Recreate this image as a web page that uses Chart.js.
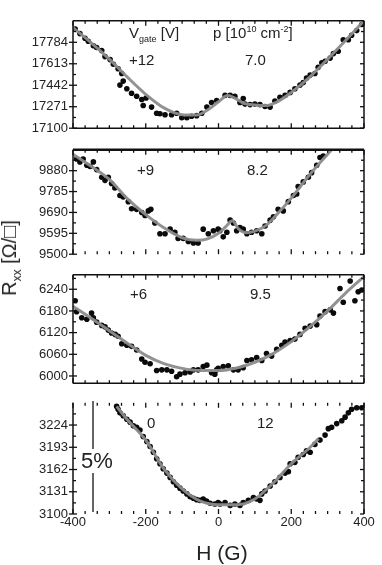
<!DOCTYPE html>
<html><head><meta charset="utf-8">
<script src="https://cdn.jsdelivr.net/npm/chart.js@4/dist/chart.umd.min.js"></script>
<style>
body{margin:0;width:382px;height:565px;background:#fff;position:relative;overflow:hidden;font-family:"Liberation Sans",Arial,sans-serif;color:#222}
canvas{position:absolute;left:0}
.t{position:absolute;white-space:nowrap;font-size:15px;line-height:1;z-index:5}
.t sub,.t sup{font-size:9px}
</style></head><body>
<canvas id="c1" width="382" height="133" style="top:8px"></canvas>
<canvas id="c2" width="382" height="130" style="top:137px"></canvas>
<canvas id="c3" width="382" height="134" style="top:262px"></canvas>
<canvas id="c4" width="382" height="175" style="top:390px"></canvas>

<div class="t" style="left:129px;top:25px">V<sub>gate</sub> [V]</div>
<div class="t" style="left:213px;top:25px">p [10<sup>10</sup> cm<sup>-2</sup>]</div>
<div class="t" style="left:129px;top:52px">+12</div>
<div class="t" style="left:245px;top:52px">7.0</div>
<div class="t" style="left:137px;top:162px">+9</div>
<div class="t" style="left:247px;top:162px">8.2</div>
<div class="t" style="left:130px;top:286px">+6</div>
<div class="t" style="left:250px;top:286px">9.5</div>
<div class="t" style="left:147px;top:415px">0</div>
<div class="t" style="left:257px;top:415px">12</div>

<div style="position:absolute;left:92px;top:401px;width:1.5px;height:111px;background:#666;z-index:4"></div>
<div class="t" style="left:81px;top:449px;font-size:22px;background:#fff;padding:1px 0">5%</div>
<div class="t" style="left:222px;top:552px;font-size:21px;transform:translate(-50%,-50%)">H (G)</div>
<div class="t" style="left:11px;top:258px;font-size:20px;transform:translate(-50%,-50%) rotate(-90deg)">R<sub style="font-size:12px">xx</sub> [Ω/□]</div>

<script>
// ---- x axis ----
const xTicks = [-400, -200, 0, 200, 400];

// ---- panel 1 (Vgate +12) ----
const yTicks1 = [17100, 17271, 17442, 17613, 17784];
const h1 = [-394,-381,-367,-358,-344,-335,-321,-312,-298,-289,-276,-266,-271,-262,-252,-239,-225,-211,-199,-207,-184,-170,-161,-147,-129,-115,-101,-87,-74,-60,-46,-32,-19,-5,18,32,45,59,68,73,87,100,114,128,142,155,169,183,197,210,224,233,242,252,265,274,284,293,307,316,329,343,357,366,380,394];
const r1 = [17889,17853,17816,17792,17756,17743,17719,17670,17646,17609,17573,17536,17443,17475,17414,17378,17354,17329,17341,17281,17268,17219,17215,17207,17207,17219,17183,17183,17195,17200,17219,17268,17305,17321,17361,17361,17354,17305,17336,17292,17288,17292,17288,17273,17268,17317,17346,17361,17385,17414,17443,17463,17500,17524,17536,17585,17621,17633,17658,17694,17712,17804,17804,17840,17877,17926];
const fitH1 = [-400,-350,-300,-250,-200,-150,-100,-60,-30,0,25,45,70,100,130,160,200,250,300,350,400];
const fitR1 = [17900,17780,17650,17505,17370,17262,17208,17205,17245,17310,17360,17340,17298,17285,17280,17308,17385,17505,17650,17800,17955];

// ---- panel 2 (Vgate +9) ----
const yTicks2 = [9500, 9595, 9690, 9785, 9880];
const h2 = [-390,-381,-372,-362,-353,-344,-335,-321,-312,-303,-294,-285,-271,-262,-248,-239,-225,-211,-202,-193,-186,-175,-161,-147,-133,-120,-111,-97,-83,-69,-56,-42,-28,-14,-1,4,13,23,32,41,50,59,68,78,91,105,119,128,142,151,164,178,192,206,215,219,233,247,256,270,279,288];
const r2 = [9933,9920,9933,9905,9899,9920,9885,9850,9836,9850,9822,9801,9767,9760,9739,9707,9704,9690,9676,9697,9704,9642,9593,9593,9614,9600,9572,9572,9558,9551,9551,9614,9593,9607,9614,9607,9579,9600,9655,9642,9607,9621,9614,9593,9600,9607,9593,9628,9655,9670,9704,9697,9739,9767,9774,9808,9829,9850,9871,9905,9940,9947];
const fitH2 = [-400,-350,-300,-250,-200,-150,-100,-60,-30,0,20,38,55,75,100,130,160,200,250,300,330];
const fitR2 = [9955,9900,9840,9752,9680,9620,9575,9563,9570,9595,9625,9652,9615,9598,9605,9630,9680,9755,9860,9955,10010];

// ---- panel 3 (Vgate +6) ----
const yTicks3 = [6000, 6060, 6120, 6180, 6240];
const h3 = [-394,-390,-376,-362,-349,-344,-335,-321,-312,-303,-294,-284,-276,-266,-252,-239,-225,-211,-202,-188,-170,-156,-142,-129,-115,-106,-92,-78,-69,-56,-42,-32,-19,-10,-5,-1,13,27,41,54,68,78,91,105,119,132,146,160,174,183,197,210,224,238,252,270,279,293,307,316,334,343,362,375,384,394];
const r3 = [6208,6178,6161,6157,6174,6161,6149,6140,6136,6127,6119,6115,6110,6089,6085,6082,6072,6047,6038,6034,6015,6017,6017,6013,5998,6005,6009,6011,6017,6017,6026,6030,6009,6005,6017,6021,6026,6028,6017,6017,6023,6043,6045,6051,6043,6062,6055,6074,6085,6094,6098,6102,6115,6132,6138,6142,6166,6178,6183,6174,6242,6204,6263,6208,6233,6238];
const fitH3 = [-400,-350,-300,-250,-200,-150,-100,-50,0,50,100,150,200,250,300,350,400];
const fitR3 = [6193,6160,6125,6090,6057,6034,6021,6015,6015,6022,6038,6062,6095,6135,6180,6230,6275];

// ---- panel 4 (Vgate 0) ----
const yTicks4 = [3100, 3131, 3162, 3193, 3224];
const h4 = [-280,-276,-271,-262,-252,-243,-234,-225,-216,-207,-197,-188,-179,-170,-161,-152,-142,-133,-124,-115,-106,-97,-87,-78,-69,-60,-51,-42,-33,-23,-10,-1,4,18,32,45,59,68,82,96,105,114,119,128,142,155,169,183,192,197,210,219,233,242,252,265,279,293,302,311,325,339,348,357,366,380,394];
const r4 = [3250,3246,3241,3237,3232,3228,3223,3221,3217,3208,3201,3194,3186,3177,3170,3163,3157,3151,3145,3140,3136,3132,3128,3124,3122,3120,3119,3121,3118,3115,3114,3116,3114,3116,3112,3114,3112,3116,3119,3123,3121,3119,3128,3132,3139,3145,3151,3157,3159,3170,3172,3179,3183,3188,3186,3197,3203,3210,3219,3221,3226,3230,3235,3241,3246,3248,3248];
const fitH4 = [-280,-250,-200,-150,-100,-50,0,50,100,150,200,250,275];
const fitR4 = [3250,3231,3203,3163,3135,3118,3113,3113,3121,3143,3170,3192,3205];

const xMinor = [];
for (let v = -400; v <= 400.01; v += 200/6) xMinor.push(v);

const frame = {
  id: 'frame',
  afterDatasetsDraw(chart, args, o) {
    const {ctx, chartArea: {left, right, top, bottom}, scales: {x, y}} = chart;
    ctx.save();
    ctx.strokeStyle = '#111';
    const L = (a, b, c, d, w) => { ctx.lineWidth = w || 1.3; ctx.beginPath(); ctx.moveTo(a, b); ctx.lineTo(c, d); ctx.stroke(); };
    L(left, top, left, bottom, 1.5);
    L(right, top, right, bottom, 1.5);
    if (o.top) L(left, top, right, top, o.topW || 1.5);
    if (o.bottom) L(left, bottom, right, bottom, 1.5);
    const yt = o.yt;
    yt.forEach((v, i) => {
      const p = y.getPixelForValue(v);
      L(left - 4, p, left + 4, p);
      L(right - 4, p, right, p);
      const m = y.getPixelForValue(v + (yt[1] - yt[0]) / 2);
      if (m > top + 2) { L(left, m, left + 3, m); L(right - 3, m, right, m); }
    });
    xMinor.forEach(v => {
      const p = x.getPixelForValue(v);
      const major = Math.abs(v % 200) < 0.1 || Math.abs(Math.abs(v % 200) - 200) < 0.1;
      const len = major ? 5 : 3;
      L(p, top, p, top + len);
      L(p, bottom, p, bottom - len);
    });
    ctx.restore();
  }
};

function pts(h, r) { return h.map((v, i) => ({x: v, y: r[i]})); }

function make(id, h, r, fh, fr, yt, ymin, ymax, opts) {
  const bottomPanel = !!opts.bottomPanel;
  return new Chart(document.getElementById(id), {
    type: 'scatter',
    data: {
      datasets: [
        {type: 'line', data: pts(fh, fr), borderColor: 'rgba(140,140,140,0.95)', borderWidth: 3, pointRadius: 0, tension: 0.4, cubicInterpolationMode: 'monotone', fill: false, order: 0},
        {data: pts(h, r), backgroundColor: '#0a0a0a', borderWidth: 0, pointRadius: 2.8, order: 1}
      ]
    },
    options: {
      responsive: false, animation: false, devicePixelRatio: 1,
      layout: {padding: {left: 0, right: 18, top: 8, bottom: bottomPanel ? 0 : 8}},
      plugins: {legend: {display: false}, tooltip: {enabled: false}, frame: opts},
      scales: {
        x: {
          type: 'linear', min: -400, max: 400, display: bottomPanel,
          grid: {display: false, drawTicks: false}, border: {display: false},
          afterBuildTicks: s => { s.ticks = xTicks.map(v => ({value: v})); },
          afterFit: s => { s.height = bottomPanel ? 51 : 0; },
          ticks: {autoSkip: false, maxRotation: 0, padding: 1, color: '#222', font: {family: 'Liberation Sans', size: 13}, callback: v => String(v)}
        },
        y: {
          type: 'linear', min: ymin, max: ymax,
          grid: {display: false, drawTicks: false}, border: {display: false},
          afterBuildTicks: s => { s.ticks = yt.map(v => ({value: v})); },
          afterFit: s => { s.width = 73; },
          ticks: {autoSkip: false, padding: 5, color: '#222', font: {family: 'Liberation Sans', size: 13}, callback: v => String(v)}
        }
      }
    },
    plugins: [frame]
  });
}

make('c1', h1, r1, fitH1, fitR1, yTicks1, 17100, 17955, {yt: yTicks1, top: true, bottom: true});
make('c2', h2, r2, fitH2, fitR2, yTicks2, 9500, 9975, {yt: yTicks2, top: true, topW: 2.5, bottom: false});
make('c3', h3, r3, fitH3, fitR3, yTicks3, 5980, 6280, {yt: yTicks3, top: true, bottom: true});
make('c4', h4, r4, fitH4, fitR4, yTicks4, 3100, 3255, {yt: yTicks4, top: false, bottom: false, bottomPanel: true});
</script>
</body></html>
